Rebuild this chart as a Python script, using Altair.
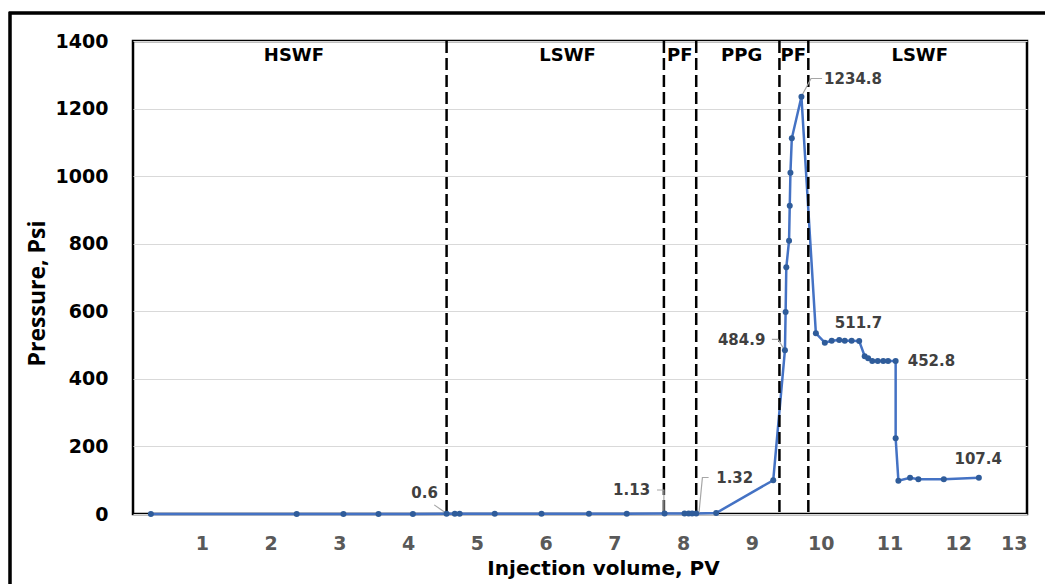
import altair as alt
import pandas as pd

# ---- data ----
pv = [0.26, 2.38, 3.06, 3.57, 4.07, 4.56, 4.68, 4.75, 5.26, 5.94, 6.63, 7.18, 7.73,
      8.02, 8.08, 8.13, 8.19, 8.48, 9.31, 9.48, 9.49, 9.50, 9.54, 9.55, 9.56, 9.58,
      9.72, 9.93, 10.06, 10.16, 10.27, 10.35, 10.45, 10.56, 10.64, 10.69, 10.75,
      10.83, 10.91, 10.98, 11.09, 11.09, 11.13, 11.30, 11.42, 11.79, 12.30]
psi = [0, 0, 0, 0, 0, 0.6, 0.6, 0.6, 0.6, 0.7, 0.8, 0.9, 1.13,
       1.2, 1.25, 1.3, 1.32, 3, 100, 484.9, 598, 730, 809, 912, 1010, 1112,
       1234.8, 535, 507, 513, 515, 513, 513, 511.7, 467, 461, 452.8,
       452.8, 452.8, 452.8, 452.8, 224, 98.5, 107, 103, 103, 107.4]

boundaries = [4.56, 7.72, 8.19, 9.40, 9.82]
zone_names = ["HSWF", "LSWF", "PF", "PPG", "PF", "LSWF"]
zone_x = [2.34, 6.32, 7.95, 8.85, 9.60, 11.44]
zone_y = [1355] * 6

ann_text = ["0.6", "1.13", "1.32", "1234.8", "484.9", "511.7", "452.8", "107.4"]
ann_x = [4.24, 7.25, 8.75, 10.47, 8.85, 10.55, 11.61, 12.29]
ann_y = [61, 71, 108, 1289, 515, 566, 453, 162]

leader_id = [0, 0, 1, 1, 1, 2, 2, 2, 3, 3, 3, 4, 4, 4]
leader_x = [4.38, 4.55, 7.62, 7.72, 7.72, 8.37, 8.28, 8.23, 10.02, 9.86, 9.73, 9.29, 9.38, 9.47]
leader_y = [27, 3, 71, 71, 3, 108, 108, 3, 1289, 1289, 1240, 517, 517, 487]

x_ticks = list(range(0, 14))
y_ticks = list(range(0, 1401, 200))

# ---- tables ----
df = pd.DataFrame({"pv": pv, "psi": psi, "i": range(len(pv))})
bdf = pd.DataFrame({"b": boundaries})
zdf = pd.DataFrame({"name": zone_names, "x": zone_x, "y": zone_y})
adf = pd.DataFrame({"t": ann_text, "x": ann_x, "y": ann_y})
ldf = pd.DataFrame({"id": leader_id, "x": leader_x, "y": leader_y, "o": range(len(leader_x))})

FONT = "DejaVu Sans"
W, H = 894, 473
PAD_L, PAD_T = 133, 41

xs = alt.Scale(domain=[0, 13], nice=False, zero=False)
ys = alt.Scale(domain=[0, 1400], nice=False)

x_axis = alt.Axis(values=x_ticks, format="d", labelOverlap=False,
                  labelExpr="datum.value == 0 ? '' : datum.label",
                  grid=False, ticks=False, domain=False, labelFont=FONT, labelFontSize=19,
                  labelFontWeight="bold", labelColor="#595959", labelPadding=20,
                  title="Injection volume, PV", titleFont=FONT, titleFontSize=20,
                  titleFontWeight="bold", titleColor="#000000", titleX=470, titleY=54,
                  titleBaseline="middle", titleAlign="center")
y_axis = alt.Axis(values=y_ticks, format="d", labelOverlap=False, grid=True,
                  gridColor="#d9d9d9", gridWidth=1.2,
                  ticks=False, domain=False, labelFont=FONT, labelFontSize=19,
                  labelFontWeight="bold", labelColor="#000000", labelPadding=25,
                  title="Pressure, Psi", titleFont="Open Sans", titleFontSize=23,
                  titleFontWeight="bold", titleColor="#000000", titleX=-96, titleY=252,
                  titleAngle=270, titleAlign="center", titleBaseline="middle")

base_line = alt.Chart(df).mark_line(color="#4472C4", strokeWidth=2.5).encode(
    x=alt.X("pv:Q", scale=xs, axis=x_axis),
    y=alt.Y("psi:Q", scale=ys, axis=y_axis),
    order="i:Q",
)
pts = alt.Chart(df).mark_point(filled=True, shape="circle", size=36, color="#2F5C9A", opacity=1).encode(
    x=alt.X("pv:Q", scale=xs), y=alt.Y("psi:Q", scale=ys)
)
rules = alt.Chart(bdf).mark_rule(color="#000000", strokeWidth=2.5, strokeDash=[12, 5]).encode(
    x=alt.X("b:Q", scale=xs)
)
zones = alt.Chart(zdf).mark_text(font=FONT, fontSize=18, fontWeight="bold", color="#000000",
                                 baseline="middle", align="center").encode(
    x=alt.X("x:Q", scale=xs), y=alt.Y("y:Q", scale=ys), text="name:N"
)
leaders = alt.Chart(ldf).mark_line(color="#a6a6a6", strokeWidth=1.2).encode(
    x=alt.X("x:Q", scale=xs), y=alt.Y("y:Q", scale=ys), detail="id:N", order="o:Q"
)
anns = alt.Chart(adf).mark_text(font=FONT, fontSize=15, fontWeight="bold", color="#404040",
                                baseline="middle", align="center").encode(
    x=alt.X("x:Q", scale=xs), y=alt.Y("y:Q", scale=ys), text="t:N"
)
frame = alt.Chart(bdf).mark_rect(fill=None, stroke="#000000", strokeWidth=2.5).encode(
    x=alt.value(10 - PAD_L), x2=alt.value(1045 - PAD_L + 20),
    y=alt.value(13 - PAD_T), y2=alt.value(584 - PAD_T + 20),
)

chart = alt.layer(frame, base_line, rules, leaders, pts, zones, anns).properties(
    width=W, height=H,
    autosize=alt.AutoSizeParams(type="none"),
    padding={"left": PAD_L, "top": PAD_T, "right": 1045 - PAD_L - W, "bottom": 584 - PAD_T - H},
    background="white",
).configure_view(stroke="#000000", strokeWidth=2.5)

chart.save("out.html", embed_options={"renderer": "svg", "actions": False})
